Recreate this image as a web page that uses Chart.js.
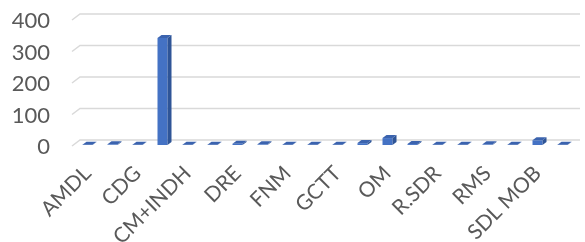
<!DOCTYPE html>
<html>
<head>
<meta charset="utf-8">
<script src="https://cdn.jsdelivr.net/npm/chart.js@4.4.1/dist/chart.umd.min.js"></script>
<style>
html,body{margin:0;padding:0;background:#fff;}
#wrap{width:585px;height:242px;}
</style>
</head>
<body>
<div id="wrap"><canvas id="c" width="585" height="242"></canvas></div>
<script>
const categories = ["AMDL","ANP","CDG","CGI","CM+INDH","CNSS","DRE","FEC","FNM","FRDA","GCTT","MASEN","OM","ONEE","R.SDR","RAM","RMS","SDL","SDL MOB","SNTL"];
const values = [1,2,1,340,1,1,4,2,1,1,1,6,22,3,1,1,2,1,15,1];
const yTicks = [0,100,200,300,400];

const DX = 4, DY = 3;     // 3D depth offset of bars
const WX = 5, WY = 5;     // back-wall offset of gridlines

const wallPlugin = {
  id: 'wall',
  beforeDatasetsDraw(chart) {
    const ctx = chart.ctx, ys = chart.scales.y, area = chart.chartArea;
    ctx.save();
    ctx.strokeStyle = '#d9d9d9';
    ctx.lineWidth = 1.5;
    yTicks.forEach(v => {
      const y = ys.getPixelForValue(v);
      ctx.beginPath();
      ctx.moveTo(area.left - 3, y + 1);
      ctx.lineTo(area.left + WX, y - WY);
      ctx.lineTo(area.right + WX, y - WY);
      ctx.stroke();
    });
    ctx.restore();
  },
  afterDatasetsDraw(chart) {
    const ctx = chart.ctx;
    const meta = chart.getDatasetMeta(0);
    ctx.save();
    meta.data.forEach(bar => {
      const p = bar.getProps(['x','y','base','width'], true);
      const l = p.x - p.width/2, r = p.x + p.width/2, t = p.y, b = p.base;
      ctx.fillStyle = '#2f5597';
      ctx.beginPath();
      ctx.moveTo(r, t); ctx.lineTo(r + DX, t - DY); ctx.lineTo(r + DX, b - DY); ctx.lineTo(r, b);
      ctx.closePath(); ctx.fill();
      ctx.fillStyle = '#3b63ae';
      ctx.beginPath();
      ctx.moveTo(l, t); ctx.lineTo(l + DX, t - DY); ctx.lineTo(r + DX, t - DY); ctx.lineTo(r, t);
      ctx.closePath(); ctx.fill();
    });
    ctx.restore();
  }
};

new Chart(document.getElementById('c'), {
  type: 'bar',
  data: {
    labels: categories,
    datasets: [{
      data: values,
      backgroundColor: '#4472c4',
      borderWidth: 0,
      barPercentage: 0.4,
      categoryPercentage: 1.0
    }]
  },
  options: {
    responsive: false,
    animation: false,
    devicePixelRatio: 1,
    layout: { padding: { top: 19, right: 10, left: 0, bottom: 0 } },
    plugins: { legend: { display: false }, tooltip: { enabled: false } },
    scales: {
      x: {
        grid: { display: false },
        border: { display: false },
        ticks: {
          autoSkip: false,
          minRotation: 45,
          maxRotation: 45,
          padding: 8,
          color: '#595959',
          font: { family: 'Lato', size: 21 },
          callback: function(val, i) { return i % 2 === 0 ? this.getLabelForValue(val) : ''; }
        },
        afterFit(scale) { scale.height = 97; scale.paddingLeft = 0; scale.paddingRight = 0; scale.paddingTop = 0; scale.paddingBottom = 0; }
      },
      y: {
        min: 0, max: 400,
        grid: { display: false, drawTicks: false },
        border: { display: false },
        afterBuildTicks(scale) { scale.ticks = yTicks.map(v => ({ value: v })); },
        ticks: {
          autoSkip: false,
          padding: 25,
          labelOffset: 2,
          color: '#595959',
          font: { family: 'Lato', size: 22 }
        },
        afterFit(scale) { scale.width = 75; scale.paddingTop = 0; scale.paddingBottom = 0; scale.paddingLeft = 0; scale.paddingRight = 0; }
      }
    }
  },
  plugins: [wallPlugin]
});
</script>
</body>
</html>
